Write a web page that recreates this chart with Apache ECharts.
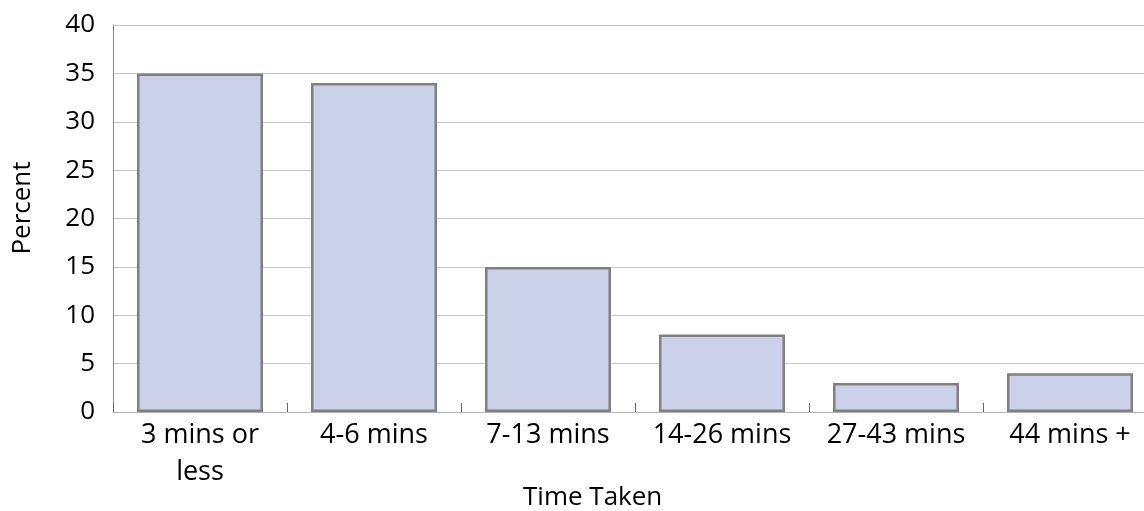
<!DOCTYPE html>
<html>
<head>
<meta charset="utf-8">
<script src="https://cdn.jsdelivr.net/npm/echarts@6/dist/echarts.min.js"></script>
<style>
html,body{margin:0;padding:0;background:#fff;overflow:hidden;width:1144px;height:511px;}
#main{width:1160px;height:511px;}
</style>
</head>
<body>
<div id="main"></div>
<script>
const categories = ['3 mins or\nless', '4-6 mins', '7-13 mins', '14-26 mins', '27-43 mins', '44 mins +'];
const percentValues = [35, 34, 15, 8, 3, 4];
const yTicks = { min: 0, max: 40, interval: 5 };
const xAxisTitle = 'Time Taken';
const yAxisTitle = 'Percent';

const chart = echarts.init(document.getElementById('main'));
chart.setOption({
  animation: false,
  backgroundColor: '#ffffff',
  graphic: [
    {
      type: 'text', left: 523, top: 485,
      style: { text: xAxisTitle, font: '26px "Open Sans"', fill: '#000' }
    },
    {
      type: 'text', x: 23, y: 208, rotation: Math.PI / 2,
      style: { text: yAxisTitle, font: '26px "Open Sans"', fill: '#000', align: 'center', verticalAlign: 'middle' }
    }
  ],
  grid: { left: 113, top: 25, width: 1044, height: 387, containLabel: false },
  xAxis: {
    type: 'category',
    data: categories,
    boundaryGap: true,
    axisLine: { show: true, lineStyle: { color: '#b4b4b4', width: 1 } },
    axisTick: { show: true, inside: true, length: 9, alignWithLabel: false, lineStyle: { color: '#666', width: 1 } },
    axisLabel: { fontFamily: 'Open Sans', fontSize: 27, color: '#000', margin: 5, lineHeight: 37, interval: 0 },
    splitLine: { show: false }
  },
  yAxis: {
    type: 'value',
    min: yTicks.min, max: yTicks.max, interval: yTicks.interval,
    axisLine: { show: true, lineStyle: { color: '#888888', width: 1 } },
    axisTick: { show: false },
    axisLabel: { fontFamily: 'Open Sans', fontSize: 26, color: '#000', margin: 18 },
    splitLine: { show: true, lineStyle: { color: '#c6c6c6', width: 1 } }
  },
  series: [{
    type: 'bar',
    data: percentValues,
    barCategoryGap: '27.6%',
    itemStyle: { color: '#ccd1ea', borderColor: '#808080', borderWidth: 2.5 },
    emphasis: { disabled: true }
  }]
});
</script>
</body>
</html>
